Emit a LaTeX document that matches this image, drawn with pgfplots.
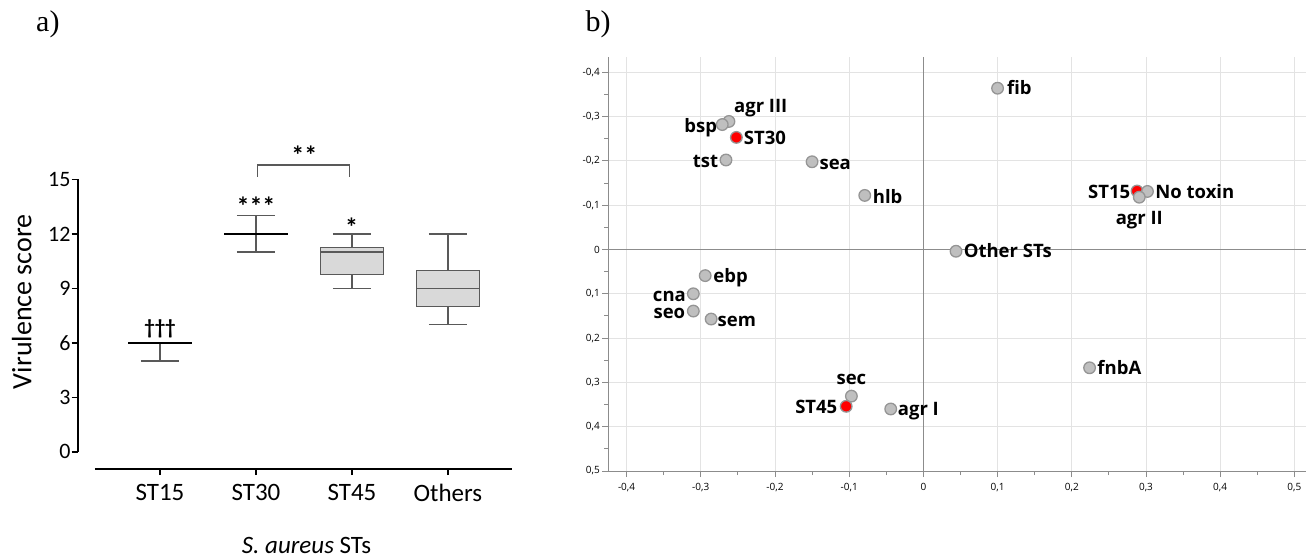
\documentclass[border=0pt]{standalone}
\usepackage{pgfplots}
\pgfplotsset{compat=1.18}
\usepackage{pgfplotstable}
\usepgfplotslibrary{statistics}
\usepackage{fontspec}
\setmainfont{Carlito}
\newfontfamily\osans{Open Sans}
\newfontfamily\tnr{Liberation Serif}
\definecolor{boxgray}{HTML}{595959}
\definecolor{boxfill}{HTML}{D9D9D9}
\definecolor{ptfill}{HTML}{BFBFBF}
\definecolor{ptdraw}{HTML}{959595}
\definecolor{gridc}{HTML}{E3E3E3}
\definecolor{axc}{HTML}{8C8C8C}
\definecolor{ptred}{HTML}{FF0000}

\pgfplotstableread[col sep=comma]{
x,y,label
-0.262,-0.289,agr III
-0.271,-0.282,bsp
-0.266,-0.202,tst
-0.150,-0.198,sea
-0.079,-0.122,hlb
-0.294,0.059,ebp
-0.310,0.100,cna
-0.310,0.139,seo
-0.286,0.157,sem
-0.097,0.331,sec
-0.044,0.360,agr I
0.100,-0.364,fib
0.302,-0.131,No toxin
0.291,-0.118,agr II
0.044,0.004,Other STs
0.224,0.267,fnbA
}\graypts

\pgfplotstableread[col sep=comma]{
x,y,label
0.288,-0.132,ST15
}\redA

\pgfplotstableread[col sep=comma]{
x,y,label
-0.252,-0.253,ST30
-0.104,0.354,ST45
}\redB

\tikzset{
  lbl/.style={inner sep=0pt, text=black, font=\osans\bfseries\fontsize{18.5}{20}\selectfont},
}
% label: anchor, dx, dy, x, y, text
\newcommand\lab[6]{\node[lbl, anchor=#1, xshift=#2pt, yshift=#3pt] at (axis cs:#4,#5) {#6};}

\begin{document}
\begin{tikzpicture}
\useasboundingbox (0pt,0pt) rectangle (1312pt,558pt);

% panel labels
\node[anchor=base west, inner sep=0pt, font=\tnr\fontsize{30}{32}\selectfont] at (36pt,526pt) {a)};
\node[anchor=base west, inner sep=0pt, font=\tnr\fontsize{30}{32}\selectfont] at (585.5pt,526.3pt) {b)};

% ---------------- panel a ----------------
\begin{axis}[
  at={(77.7pt,89pt)}, anchor=south west,
  scale only axis, width=434.3pt, height=289.6pt,
  xmin=0.143, xmax=4.667, ymin=-0.94, ymax=15,
  axis x line*=bottom, axis y line*=left,
  axis line style={draw=none},
  xtick={1,2,3,4}, xticklabels={ST15,ST30,ST45,Others},
  ytick={0,3,6,9,12,15}, yticklabels={0,3,6,9,12,15},
  tick align=outside, major tick length=6pt,
  tick style={black, line width=1.5pt},
  xticklabel style={font=\fontsize{25}{28}\selectfont, anchor=north, inner sep=0pt, yshift=-9pt},
  yticklabel style={font=\fontsize{22}{24}\selectfont, anchor=east, inner sep=1pt},
  clip=false,
  boxplot/draw direction=y,
  boxplot/box extend=0.66,
  boxplot/whisker extend=0.4,
]
\draw[black, line width=1.6pt] (axis cs:0.143,0) -- (axis cs:0.143,15);
\draw[black, line width=1.6pt] (axis cs:0.323,-0.94) -- (axis cs:4.667,-0.94);

\addplot[boxplot prepared={draw position=1, median=6, lower quartile=6, upper quartile=6, lower whisker=5, upper whisker=6},
  boxplot/every box/.style={draw=black, line width=2.2pt},
  boxplot/every median/.style={draw=black, line width=2.2pt},
  boxplot/every whisker/.style={draw=boxgray, line width=1.3pt}] coordinates {};
\addplot[boxplot prepared={draw position=2, median=12, lower quartile=12, upper quartile=12, lower whisker=11, upper whisker=13},
  boxplot/every box/.style={draw=black, line width=2.2pt},
  boxplot/every median/.style={draw=black, line width=2.2pt},
  boxplot/every whisker/.style={draw=boxgray, line width=1.3pt}] coordinates {};
\addplot[boxplot prepared={draw position=3, median=11, lower quartile=9.75, upper quartile=11.25, lower whisker=9, upper whisker=12},
  boxplot/every box/.style={draw=boxgray, fill=boxfill, line width=1.3pt},
  boxplot/every median/.style={draw=boxgray, line width=1.3pt},
  boxplot/every whisker/.style={draw=boxgray, line width=1.3pt}] coordinates {};
\addplot[boxplot prepared={draw position=4, median=9, lower quartile=8, upper quartile=10, lower whisker=7, upper whisker=12},
  boxplot/every box/.style={draw=boxgray, fill=boxfill, line width=1.3pt},
  boxplot/every median/.style={draw=boxgray, line width=1.3pt},
  boxplot/every whisker/.style={draw=boxgray, line width=1.3pt}] coordinates {};
\end{axis}

% annotations panel a
\node[anchor=base, inner sep=0pt, font=\bfseries\fontsize{21}{22}\selectfont] at (160pt,223.5pt) {†††};
\node[anchor=base, inner sep=0pt, font=\bfseries\fontsize{26}{28}\selectfont] at (256pt,342pt) {***};
\node[anchor=base, inner sep=0pt, font=\bfseries\fontsize{26}{28}\selectfont] at (351.7pt,322pt) {*};
\node[anchor=base, inner sep=0pt, font=\bfseries\fontsize{26}{28}\selectfont] at (304.3pt,393.5pt) {**};
\draw[boxgray, line width=1.2pt] (257.3pt,381.3pt) -- (257.3pt,393pt) -- (349.3pt,393pt) -- (349.3pt,381.3pt);
\node[rotate=90, inner sep=0pt, font=\fontsize{28}{30}\selectfont] at (21.7pt,256.3pt) {Virulence score};
\node[anchor=base, inner sep=0pt, font=\fontsize{25}{28}\selectfont] at (306.5pt,5pt) {\textit{S. aureus} STs};

% ---------------- panel b ----------------
\begin{axis}[
  at={(956.75pt,293.9pt)}, anchor=center,
  scale only axis, width=697.5pt, height=413.8pt,
  xmin=-0.425, xmax=0.515, ymin=-0.434, ymax=0.5, y dir=reverse,
  axis x line*=bottom, axis y line*=left,
  axis line style={draw=axc, line width=1pt},
  xtick={-0.4,-0.3,-0.2,-0.1,0,0.1,0.2,0.3,0.4,0.5},
  ytick={-0.4,-0.3,-0.2,-0.1,0,0.1,0.2,0.3,0.4,0.5},
  xticklabels={{-0,4},{-0,3},{-0,2},{-0,1},0,{0,1},{0,2},{0,3},{0,4},{0,5}},
  yticklabels={{-0,4},{-0,3},{-0,2},{-0,1},0,{0,1},{0,2},{0,3},{0,4},{0,5}},
  minor tick num=1,
  tick align=outside, major tick length=6pt, minor tick length=4pt,
  tick style={axc, line width=0.9pt},
  grid=major, major grid style={draw=gridc, line width=0.9pt},
  xticklabel style={font=\osans\fontsize{10}{12}\selectfont, anchor=north, inner sep=0pt, yshift=-6pt},
  yticklabel style={font=\osans\fontsize{10}{12}\selectfont, anchor=east, inner sep=2pt},
  clip=false,
]
\draw[axc, line width=1.1pt] (axis cs:0,-0.434) -- (axis cs:0,0.5);
\draw[axc, line width=1.1pt] (axis cs:-0.425,0) -- (axis cs:0.515,0);

\addplot[only marks, mark=*, mark size=5.8pt,
  mark options={fill=ptred, draw=ptdraw, line width=1.3pt}]
  table[x=x, y=y] {\redA};
\addplot[only marks, mark=*, mark size=5.8pt,
  mark options={fill=ptfill, draw=ptdraw, line width=1.3pt}]
  table[x=x, y=y] {\graypts};
\addplot[only marks, mark=*, mark size=5.8pt,
  mark options={fill=ptred, draw=ptdraw, line width=1.3pt}]
  table[x=x, y=y] {\redB};

\lab{base west}{5}{8.5}{-0.262}{-0.289}{agr III}
\lab{base east}{-5}{-7.7}{-0.271}{-0.282}{bsp}
\lab{base east}{-7.7}{-7.4}{-0.266}{-0.202}{tst}
\lab{base west}{7.3}{-8}{-0.150}{-0.198}{sea}
\lab{base west}{8}{-7.7}{-0.079}{-0.122}{hlb}
\lab{base west}{8}{-7.3}{-0.294}{0.059}{ebp}
\lab{base east}{-7.3}{-7.4}{-0.310}{0.100}{cna}
\lab{base east}{-8}{-7.6}{-0.310}{0.139}{seo}
\lab{base west}{6.3}{-7.3}{-0.286}{0.157}{sem}
\lab{base}{0}{11.7}{-0.097}{0.331}{sec}
\lab{base west}{7}{-6.3}{-0.044}{0.360}{agr I}
\lab{base west}{9.4}{-6.6}{0.100}{-0.364}{fib}
\lab{base west}{7.7}{-7.3}{0.302}{-0.131}{No toxin}
\lab{base}{0}{-27.6}{0.291}{-0.118}{agr II}
\lab{base west}{7.6}{-6.6}{0.044}{0.004}{Other STs}
\lab{base west}{7.7}{-6.7}{0.224}{0.267}{fnbA}
\lab{base east}{-6.7}{-7.6}{0.288}{-0.132}{ST15}
\lab{base west}{7.3}{-7.6}{-0.252}{-0.253}{ST30}
\lab{base east}{-8.7}{-7.6}{-0.104}{0.354}{ST45}
\end{axis}
\end{tikzpicture}
\end{document}
